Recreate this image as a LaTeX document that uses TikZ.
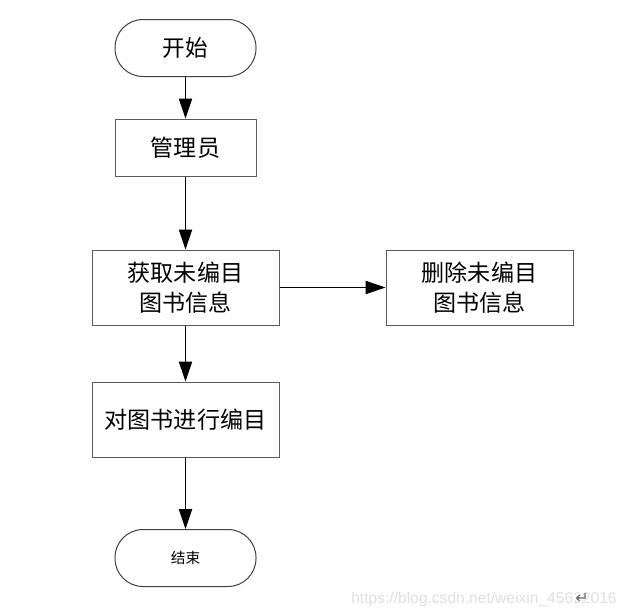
\documentclass[tikz,border=0pt]{standalone}
\usepackage{fontspec}
\setmainfont{Noto Sans CJK SC}
\newfontfamily\markfont{Liberation Sans}
\newfontfamily\symfont{DejaVu Sans}
\usepackage{tikz}
\usetikzlibrary{arrows.meta}

\begin{document}
\begin{tikzpicture}
      [
        x=0.75pt, y=-0.75pt,
        terminal/.style={draw=black!75, line width=0.75pt, rounded corners=21pt,
          minimum width=105.75pt, minimum height=42.75pt, inner sep=0pt},
        process/.style={draw=black!65, line width=0.75pt,
          minimum width=140.25pt, minimum height=56.25pt, inner sep=0pt,
          align=center, font=\fontsize{17.3}{22.5}\selectfont},
        link/.style={draw=black, line width=0.75pt,
          -{Triangle[length=15pt,width=10pt]}}
      ]
      \useasboundingbox[fill=white] (0,0) rectangle (631,615);
      % terminals
      \node [terminal, font=\fontsize{17}{20}\selectfont] (start) at (185.5,48) {开始};
      \node [terminal, font=\fontsize{11}{14}\selectfont] (end) at (185.5,558) {结束};
      % steps
      \node [process, minimum width=105.75pt, minimum height=42.75pt] (admin) at (185.5,147.5) {管理员};
      \node [process] (fetch) at (185.5,287.5) {获取未编目\\图书信息};
      \node [process] (delete) at (479.5,287.5) {删除未编目\\图书信息};
      \node [process] (catalog) at (185.5,419.5) {对图书进行编目};
      % edges
      \draw [link] (start) -- (admin);
      \draw [link] (admin) -- (fetch);
      \draw [link] (fetch) -- (delete);
      \draw [link] (fetch) -- (catalog);
      \draw [link] (catalog) -- (end);
      % watermark
      \node [anchor=base west, inner sep=0pt, text=black!12,
        font=\markfont\fontsize{11.7}{13}\selectfont] (mark) at (351,603)
        {https://blog.csdn.net/weixin\_45622016};
      \node [anchor=base, inner sep=0pt, text=black!60,
        font=\symfont\fontsize{12}{13}\selectfont] (ret) at (582,603) {↵};
    \end{tikzpicture}
\end{document}
